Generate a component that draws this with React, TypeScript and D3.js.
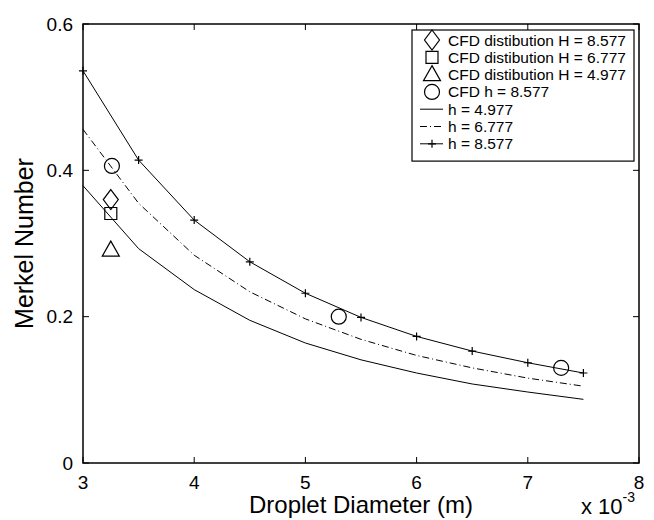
import React, { useEffect, useRef } from "react";
import * as d3 from "d3";

// droplet diameter (x 10^-3 m)
const diameters = [3, 3.5, 4, 4.5, 5, 5.5, 6, 6.5, 7, 7.5];
const merkelH4977 = [0.379, 0.293, 0.237, 0.195, 0.164, 0.141, 0.123, 0.108, 0.097, 0.087];
const merkelH6777 = [0.456, 0.355, 0.284, 0.234, 0.197, 0.169, 0.147, 0.130, 0.116, 0.105];
const merkelH8577 = [0.536, 0.414, 0.332, 0.275, 0.232, 0.199, 0.173, 0.153, 0.137, 0.123];

// CFD points
const cfdDistX = [3.25];
const cfdDist8577 = [0.36];
const cfdDist6777 = [0.341];
const cfdDist4977 = [0.291];
const cfdHx = [3.26, 5.3, 7.3];
const cfdHy = [0.406, 0.2, 0.13];

const xTicks = [3, 4, 5, 6, 7, 8];
const yTicks = [0, 0.2, 0.4, 0.6];

const legendItems = [
  { label: "CFD distibution H = 8.577", kind: "diamond" },
  { label: "CFD distibution H = 6.777", kind: "square" },
  { label: "CFD distibution H = 4.977", kind: "triangle" },
  { label: "CFD h = 8.577", kind: "circle" },
  { label: "h = 4.977", kind: "solid" },
  { label: "h = 6.777", kind: "dashdot" },
  { label: "h = 8.577", kind: "plus" },
];

const W = 654;
const H = 520;
const margin = { top: 24, right: 15, bottom: 57, left: 83 };
const FONT = "'Liberation Sans', Arial, Helvetica, sans-serif";

const markerPath = (kind, cx, cy) => {
  switch (kind) {
    case "diamond":
      return `M${cx},${cy - 10}L${cx + 7.5},${cy}L${cx},${cy + 10}L${cx - 7.5},${cy}Z`;
    case "square":
      return `M${cx - 6},${cy - 6}h12v12h-12Z`;
    case "triangle":
      return `M${cx},${cy - 9}L${cx + 8.5},${cy + 6}L${cx - 8.5},${cy + 6}Z`;
    case "plus":
      return `M${cx - 4},${cy}h8M${cx},${cy - 4}v8`;
    default:
      return "";
  }
};

const App = () => {
  const svgRef = useRef(null);

  useEffect(() => {
    const svg = d3.select(svgRef.current);
    svg.selectAll("*").remove();

    const x = d3.scaleLinear().domain([3, 8]).range([margin.left, W - margin.right]);
    const y = d3.scaleLinear().domain([0, 0.6]).range([H - margin.bottom, margin.top]);
    const [x0, x1] = x.range();
    const [y0, y1] = y.range();

    const g = svg.append("g");

    const line = d3
      .line()
      .x((d) => x(d[0]))
      .y((d) => y(d[1]));

    const series = [
      { vals: merkelH4977, dash: null },
      { vals: merkelH6777, dash: "7,3,1,3" },
      { vals: merkelH8577, dash: null },
    ];
    series.forEach((s) => {
      g.append("path")
        .attr("d", line(diameters.map((d, i) => [d, s.vals[i]])))
        .attr("fill", "none")
        .attr("stroke", "#000")
        .attr("stroke-width", 1)
        .attr("stroke-dasharray", s.dash);
    });

    // plus markers on h = 8.577
    diameters.forEach((d, i) => {
      g.append("path")
        .attr("d", markerPath("plus", x(d), y(merkelH8577[i])))
        .attr("stroke", "#000")
        .attr("stroke-width", 1.2)
        .attr("fill", "none");
    });

    // CFD markers
    const drawMarker = (kind, cx, cy) => {
      if (kind === "circle") {
        g.append("circle")
          .attr("cx", cx)
          .attr("cy", cy)
          .attr("r", 7.5)
          .attr("fill", "none")
          .attr("stroke", "#000")
          .attr("stroke-width", 1.2);
      } else {
        g.append("path")
          .attr("d", markerPath(kind, cx, cy))
          .attr("fill", "none")
          .attr("stroke", "#000")
          .attr("stroke-width", 1.2);
      }
    };
    cfdDistX.forEach((d, i) => {
      drawMarker("diamond", x(d), y(cfdDist8577[i]));
      drawMarker("square", x(d), y(cfdDist6777[i]));
      drawMarker("triangle", x(d), y(cfdDist4977[i]));
    });
    cfdHx.forEach((d, i) => drawMarker("circle", x(d), y(cfdHy[i])));

    // axes box
    g.append("rect")
      .attr("x", x0)
      .attr("y", y1)
      .attr("width", x1 - x0)
      .attr("height", y0 - y1)
      .attr("fill", "none")
      .attr("stroke", "#000")
      .attr("stroke-width", 1.5);

    const tickLen = 6;
    xTicks.forEach((t) => {
      g.append("line").attr("x1", x(t)).attr("x2", x(t)).attr("y1", y0).attr("y2", y0 - tickLen).attr("stroke", "#000");
      g.append("line").attr("x1", x(t)).attr("x2", x(t)).attr("y1", y1).attr("y2", y1 + tickLen).attr("stroke", "#000");
      g.append("text")
        .attr("x", x(t))
        .attr("y", y0 + 26)
        .attr("text-anchor", "middle")
        .attr("font-family", FONT)
        .attr("font-size", 19)
        .text(t);
    });
    yTicks.forEach((t) => {
      g.append("line").attr("x1", x0).attr("x2", x0 + tickLen).attr("y1", y(t)).attr("y2", y(t)).attr("stroke", "#000");
      g.append("line").attr("x1", x1).attr("x2", x1 - tickLen).attr("y1", y(t)).attr("y2", y(t)).attr("stroke", "#000");
      g.append("text")
        .attr("x", x0 - 10)
        .attr("y", y(t) + 6.8)
        .attr("text-anchor", "end")
        .attr("font-family", FONT)
        .attr("font-size", 19)
        .text(t === 0 ? "0" : d3.format(".1f")(t));
    });

    // axis titles
    g.append("text")
      .attr("x", (x0 + x1) / 2)
      .attr("y", 513)
      .attr("text-anchor", "middle")
      .attr("font-family", FONT)
      .attr("font-size", 24)
      .text("Droplet Diameter (m)");
    const exp = g
      .append("text")
      .attr("x", 581)
      .attr("y", 514)
      .attr("font-family", FONT)
      .attr("font-size", 22);
    exp.append("tspan").text("x 10");
    exp.append("tspan").attr("dy", -12).attr("font-size", 14).text("-3");

    g.append("text")
      .attr("transform", `translate(33,${(y0 + y1) / 2}) rotate(-90)`)
      .attr("text-anchor", "middle")
      .attr("font-family", FONT)
      .attr("font-size", 25)
      .text("Merkel Number");

    // legend
    const lg = g.append("g");
    const lx = 412;
    const ly = 30;
    const rowH = 17.3;
    lg.append("rect")
      .attr("x", lx)
      .attr("y", ly)
      .attr("width", 222)
      .attr("height", 10 + rowH * legendItems.length)
      .attr("fill", "#fff")
      .attr("stroke", "#000")
      .attr("stroke-width", 1.2);
    legendItems.forEach((it, i) => {
      const cy = ly + 10 + i * rowH;
      const cx = 432;
      if (it.kind === "solid" || it.kind === "dashdot" || it.kind === "plus") {
        lg.append("line")
          .attr("x1", 420)
          .attr("x2", 443)
          .attr("y1", cy)
          .attr("y2", cy)
          .attr("stroke", "#000")
          .attr("stroke-dasharray", it.kind === "dashdot" ? "7,3,1,3" : null);
        if (it.kind === "plus") {
          lg.append("path")
            .attr("d", markerPath("plus", cx, cy))
            .attr("stroke", "#000")
            .attr("stroke-width", 1.2);
        }
      } else if (it.kind === "circle") {
        lg.append("circle")
          .attr("cx", cx)
          .attr("cy", cy)
          .attr("r", 7.5)
          .attr("fill", "none")
          .attr("stroke", "#000")
          .attr("stroke-width", 1.2);
      } else {
        lg.append("path")
          .attr("d", markerPath(it.kind, cx, cy))
          .attr("fill", "none")
          .attr("stroke", "#000")
          .attr("stroke-width", 1.2);
      }
      lg.append("text")
        .attr("x", 448)
        .attr("y", cy + 5.5)
        .attr("font-family", FONT)
        .attr("font-size", 15.5)
        .text(it.label);
    });
  }, []);

  return (
    <svg
      ref={svgRef}
      width={W}
      height={H}
      style={{ position: "absolute", left: 0, top: 0, background: "#fff" }}
    />
  );
};

export default App;
